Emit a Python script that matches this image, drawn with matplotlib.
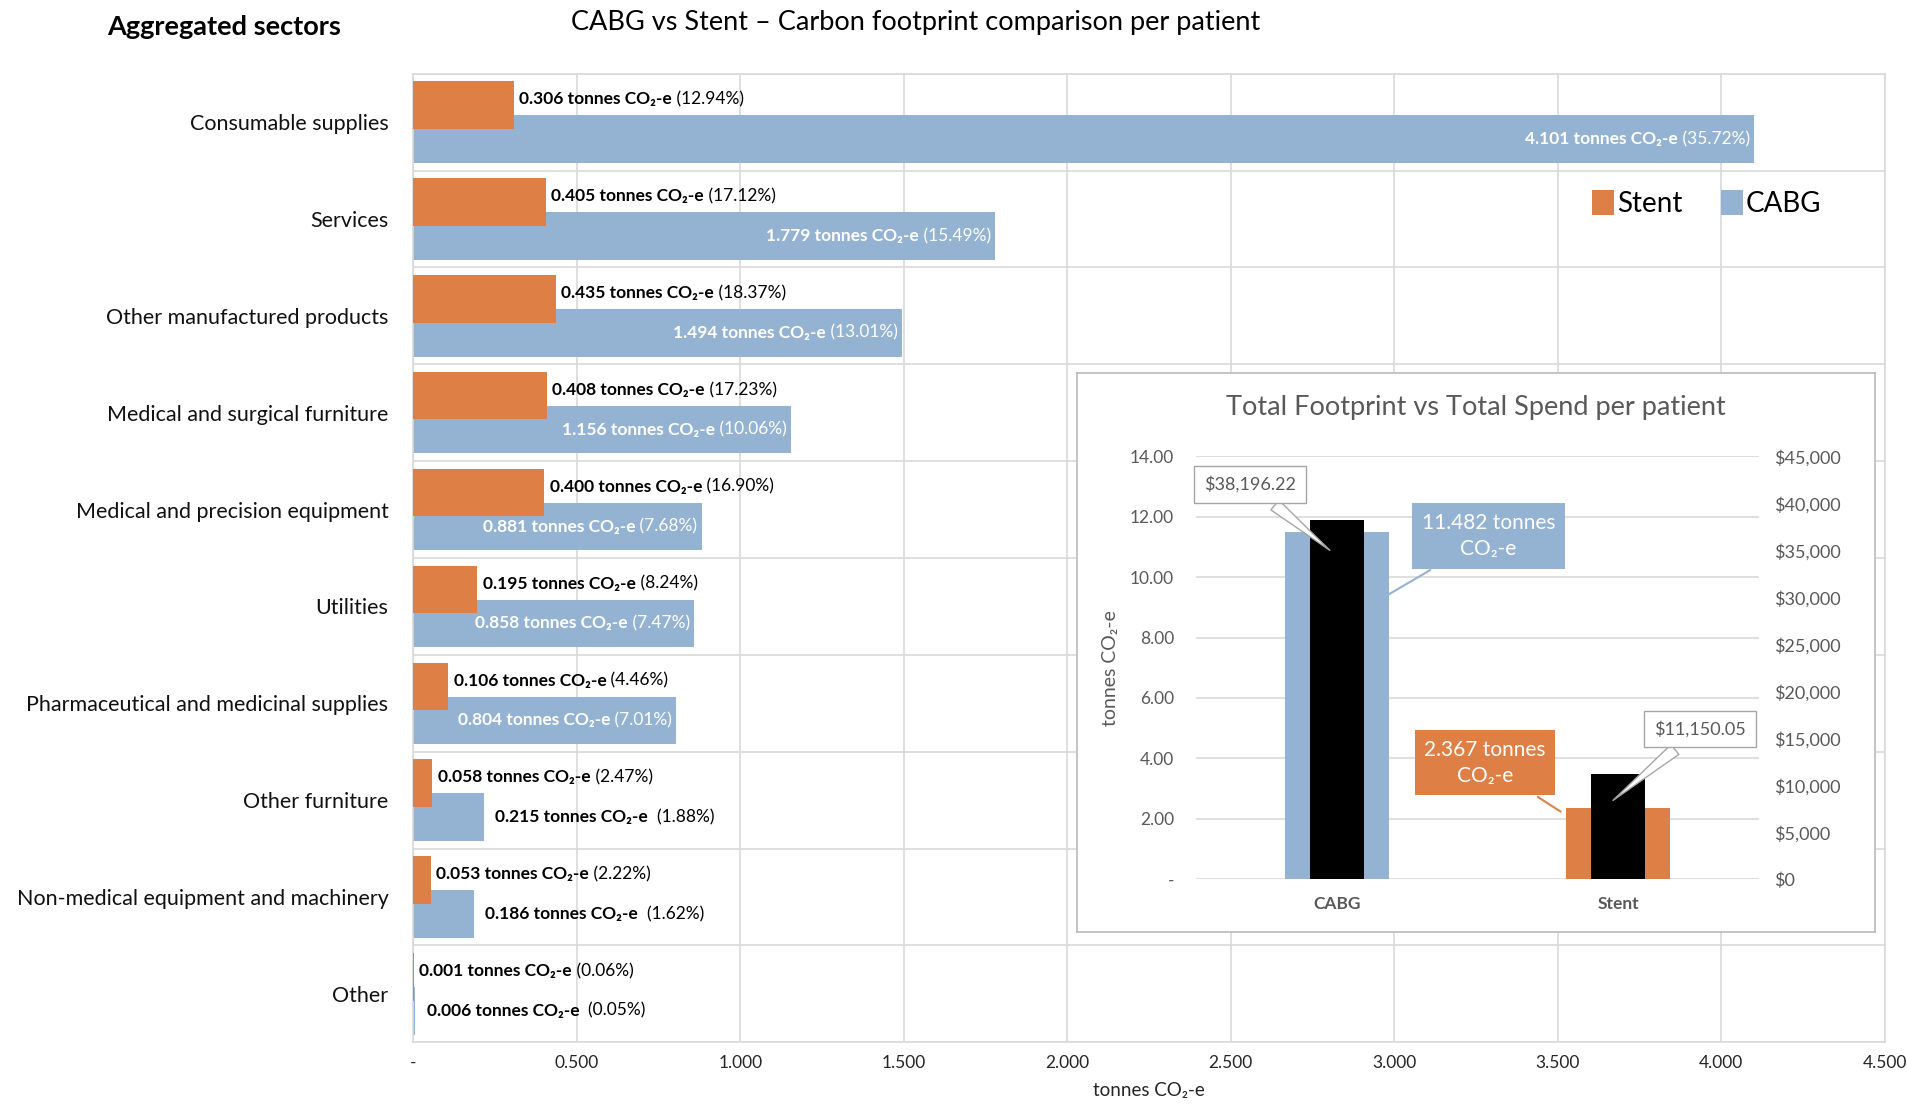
import matplotlib
matplotlib.use("Agg")
import matplotlib.pyplot as plt
from matplotlib.patches import Patch
import numpy as np

plt.rcParams["font.family"] = ["Lato", "DejaVu Sans"]

SECTORS = [
    "Consumable supplies", "Services", "Other manufactured products",
    "Medical and surgical furniture", "Medical and precision equipment", "Utilities",
    "Pharmaceutical and medicinal supplies", "Other furniture",
    "Non-medical equipment and machinery", "Other",
]
STENT = [0.306, 0.405, 0.435, 0.408, 0.400, 0.195, 0.106, 0.058, 0.053, 0.001]
STENT_PCT = [12.94, 17.12, 18.37, 17.23, 16.90, 8.24, 4.46, 2.47, 2.22, 0.06]
CABG = [4.101, 1.779, 1.494, 1.156, 0.881, 0.858, 0.804, 0.215, 0.186, 0.006]
CABG_PCT = [35.72, 15.49, 13.01, 10.06, 7.68, 7.47, 7.01, 1.88, 1.62, 0.05]
CABG_INSIDE = [True, True, True, True, True, True, True, False, False, False]

PROCEDURES = ["CABG", "Stent"]
TOTAL_CO2 = [11.482, 2.367]
TOTAL_SPEND = [38196.22, 11150.05]

ORANGE = "#de8046"
BLUE = "#94b3d2"
GRID = "#d9d9d9"
GREY_TXT = "#595959"

fig = plt.figure(figsize=(19.08, 11.16), dpi=100)

# ---- main horizontal bar chart ----
ax = fig.add_axes([0.2167, 0.066, 0.7711, 0.868])
y = np.arange(len(SECTORS))
off, h = 0.175, 0.49
ax.barh(y + off, CABG, height=h, color=BLUE, zorder=2)
ax.barh(y - off, STENT, height=h, color=ORANGE, zorder=3)

ax.set_xlim(0, 4.5)
ax.set_ylim(len(SECTORS) - 0.5, -0.5)
xt = np.arange(0, 4.51, 0.5)
ax.set_xticks(xt)
ax.set_xticklabels(["-"] + [f"{v:.3f}" for v in xt[1:]], fontsize=12.5, color="#262626")
ax.set_yticks(y)
ax.set_yticklabels(SECTORS, fontsize=15.5, color="#111111")
ax.set_yticks(np.arange(-0.5, len(SECTORS)), minor=True)
ax.tick_params(axis="both", which="both", length=0)
ax.tick_params(axis="y", pad=18)
ax.tick_params(axis="x", pad=9)
ax.grid(axis="x", which="major", color=GRID, lw=1.2, zorder=0)
ax.grid(axis="y", which="minor", color=GRID, lw=1.2, zorder=0)
ax.grid(axis="y", which="major", visible=False)
for s in ax.spines.values():
    s.set_color(GRID)
    s.set_linewidth(1.2)
ax.set_xlabel("tonnes CO\u2082-e", fontsize=13.5, color="#262626", labelpad=8)

lab_fs = 12.5
for i in range(len(SECTORS)):
    # stent labels outside the bar end
    t = ax.annotate(f"{STENT[i]:.3f} tonnes CO\u2082-e", xy=(STENT[i], i - off - 0.06),
                    xytext=(4, 0), textcoords="offset points", ha="left", va="center",
                    fontsize=lab_fs, fontweight="bold", color="black", zorder=5)
    ax.annotate(f" ({STENT_PCT[i]:.2f}%)", xy=(1, 0.5), xycoords=t, ha="left", va="center",
                fontsize=lab_fs, color="black", zorder=5)
    # CABG labels
    if CABG_INSIDE[i]:
        p = ax.annotate(f" ({CABG_PCT[i]:.2f}%)", xy=(CABG[i], i + off), xytext=(-3, 0),
                        textcoords="offset points", ha="right", va="center",
                        fontsize=lab_fs, color="white", zorder=5)
        ax.annotate(f"{CABG[i]:.3f} tonnes CO\u2082-e", xy=(0, 0.5), xycoords=p, ha="right",
                    va="center", fontsize=lab_fs, fontweight="bold", color="white", zorder=5)
    else:
        t = ax.annotate(f"{CABG[i]:.3f} tonnes CO\u2082-e", xy=(CABG[i], i + off), xytext=(8, 0),
                        textcoords="offset points", ha="left", va="center",
                        fontsize=lab_fs, fontweight="bold", color="black", zorder=5)
        ax.annotate(f"  ({CABG_PCT[i]:.2f}%)", xy=(1, 0.5), xycoords=t, ha="left", va="center",
                    fontsize=lab_fs, color="black", zorder=5)

handles = [Patch(facecolor=ORANGE, label="Stent"), Patch(facecolor=BLUE, label="CABG")]
ax.legend(handles=handles, loc="center", bbox_to_anchor=(0.879, 0.866), ncol=2, frameon=False,
          fontsize=20, handlelength=0.8, handleheight=1.0, handletextpad=0.1, columnspacing=1.4)

fig.text(0.1173, 0.976, "Aggregated sectors", ha="center", va="center", fontsize=19.5,
         fontweight="bold", color="black")
fig.text(0.480, 0.980, "CABG vs Stent \u2013 Carbon footprint comparison per patient",
         ha="center", va="center", fontsize=19.5, color="black")

# ---- inset chart ----
box = fig.add_axes([0.5647, 0.165, 0.418, 0.501])
box.set_xticks([])
box.set_yticks([])
box.set_facecolor("white")
box.set_zorder(4)
for s in box.spines.values():
    s.set_color("#bfbfbf")
    s.set_linewidth(1.3)

fig.text(0.7737, 0.635, "Total Footprint vs Total Spend per patient", ha="center", va="center",
         fontsize=19.5, color=GREY_TXT, zorder=6)

ia = fig.add_axes([0.6269, 0.2121, 0.2949, 0.3791])
ia.set_zorder(5)
ia.patch.set_alpha(0)
x = np.arange(len(PROCEDURES))
ia.bar(x, TOTAL_CO2, width=0.37, color=[BLUE, ORANGE], zorder=2)
ia.set_xlim(-0.5, 1.5)
ia.set_ylim(0, 14)
yt = np.arange(0, 14.1, 2)
ia.set_yticks(yt)
ia.set_yticklabels(["-"] + [f"{v:.2f}" for v in yt[1:]], fontsize=12.5, color=GREY_TXT)
ia.set_xticks(x)
ia.set_xticklabels(PROCEDURES, fontsize=12.5, fontweight="bold", color=GREY_TXT)
ia.tick_params(axis="both", length=0)
ia.tick_params(axis="y", pad=16)
ia.tick_params(axis="x", pad=12)
ia.grid(axis="y", color=GRID, lw=1.2, zorder=0)
for s in ia.spines.values():
    s.set_visible(False)
ia.set_ylabel("tonnes CO\u2082-e", fontsize=14, color=GREY_TXT, labelpad=8)

ib = ia.twinx()
ib.bar(x, TOTAL_SPEND, width=0.19, color="black", zorder=3)
ib.set_ylim(0, 45000)
dt = np.arange(0, 45001, 5000)
ib.set_yticks(dt)
ib.set_yticklabels([f"${v:,.0f}" for v in dt], fontsize=13, color=GREY_TXT)
ib.tick_params(axis="y", length=0, pad=11)
for s in ib.spines.values():
    s.set_visible(False)

ib.annotate(f"${TOTAL_SPEND[0]:,.2f}", xy=(-0.017, 34800), xytext=(-0.309, 42000),
            ha="center", va="center", fontsize=13, color=GREY_TXT, zorder=6,
            bbox=dict(boxstyle="square,pad=0.55", fc="white", ec="#a6a6a6", lw=1),
            arrowprops=dict(arrowstyle="wedge,tail_width=0.7,shrink_factor=0.5",
                            fc="white", ec="#a6a6a6", lw=1))
ib.annotate(f"${TOTAL_SPEND[1]:,.2f}", xy=(0.974, 8200), xytext=(1.291, 16000),
            ha="center", va="center", fontsize=13, color=GREY_TXT, zorder=6,
            bbox=dict(boxstyle="square,pad=0.55", fc="white", ec="#a6a6a6", lw=1),
            arrowprops=dict(arrowstyle="wedge,tail_width=0.7,shrink_factor=0.5",
                            fc="white", ec="#a6a6a6", lw=1))
ib.annotate(f"{TOTAL_CO2[0]:.3f} tonnes\nCO\u2082-e", xy=(0.174, 9.37 / 14 * 45000),
            xytext=(0.539, 11.36 / 14 * 45000), ha="center", va="center", fontsize=15,
            color="white", linespacing=1.4, zorder=6,
            bbox=dict(boxstyle="square,pad=0.45", fc=BLUE, ec="none"),
            arrowprops=dict(arrowstyle="-", color=BLUE, lw=1.5))
ib.annotate(f"{TOTAL_CO2[1]:.3f} tonnes\nCO\u2082-e", xy=(0.804, 2.19 / 14 * 45000),
            xytext=(0.526, 3.855 / 14 * 45000), ha="center", va="center", fontsize=15,
            color="white", linespacing=1.4, zorder=6,
            bbox=dict(boxstyle="square,pad=0.45", fc=ORANGE, ec="none"),
            arrowprops=dict(arrowstyle="-", color=ORANGE, lw=1.5))

fig.savefig("out.png", dpi=100)
